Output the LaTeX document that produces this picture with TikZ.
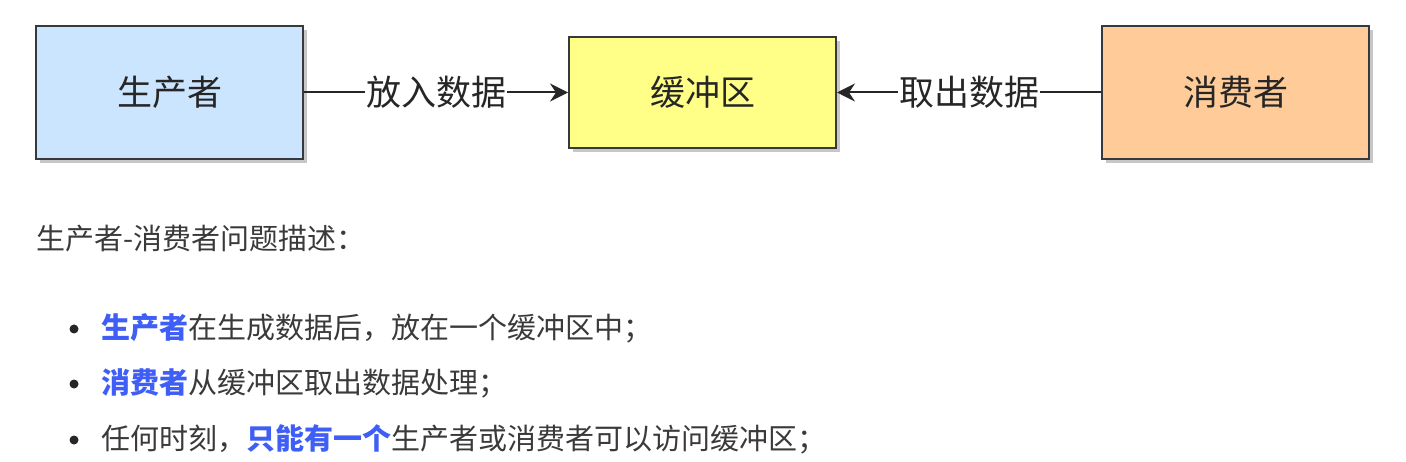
\documentclass[tikz,border=0pt]{standalone}
\usepackage{fontspec}
\setmainfont{Noto Sans CJK SC}
\usetikzlibrary{arrows.meta,shadows}
\definecolor{strokec}{HTML}{36393D}
\definecolor{prodfill}{HTML}{CCE5FF}
\definecolor{buffill}{HTML}{FFFF88}
\definecolor{consfill}{HTML}{FFCC99}
\definecolor{hlblue}{HTML}{3F5EF5}
\definecolor{bodygray}{HTML}{3A3A3A}
\tikzset{
  box/.style={draw=strokec, line width=2pt, minimum width=267pt, inner sep=0pt,
    font=\fontsize{35pt}{40pt}\selectfont, text=black!85,
    drop shadow={shadow xshift=4pt, shadow yshift=-4pt, fill=black!22, opacity=1}},
  conn/.style={draw=black!85, line width=2pt},
  tip/.style={-{Stealth[length=18pt,width=18pt,inset=6pt]}},
  elabel/.style={fill=white, inner xsep=1pt, inner ysep=2pt, font=\fontsize{35pt}{40pt}\selectfont, text=black!85},
  body/.style={anchor=base west, inner sep=0pt, font=\fontsize{29pt}{33pt}\selectfont, text=bodygray},
  dot/.style={circle, fill=black!85, inner sep=0pt, minimum size=9pt}
}
\newcommand{\hl}[1]{\textcolor{hlblue}{\bfseries #1}}
\begin{document}
\begin{tikzpicture}[x=1pt,y=-1pt]
\useasboundingbox (0,0) rectangle (1406,462);
\node[box, fill=prodfill, minimum height=133pt] (prod) at (169.5,92.5) {生产者};
\node[box, fill=buffill, minimum height=111pt] (buf) at (702.5,92.5) {缓冲区};
\node[box, fill=consfill, minimum height=133pt] (cons) at (1235.5,92.5) {消费者};
\path[conn, tip] (prod.east) -- node[elabel] (l1) {放入数据} (buf.west);
\path[conn, tip] (cons.west) -- node[elabel] (l2) {取出数据} (buf.east);
\node[body] (title) at (36,250) {生产者-消费者问题描述：};
\node[dot] (d1) at (74,329) {};
\node[dot] (d2) at (74,384) {};
\node[dot] (d3) at (74,440) {};
\node[body] (t1) at (101,338) {\hl{生产者}在生成数据后，放在一个缓冲区中；};
\node[body] (t2) at (101,393) {\hl{消费者}从缓冲区取出数据处理；};
\node[body] (t3) at (101,449) {任何时刻，\hl{只能有一个}生产者或消费者可以访问缓冲区；};
\end{tikzpicture}
\end{document}
